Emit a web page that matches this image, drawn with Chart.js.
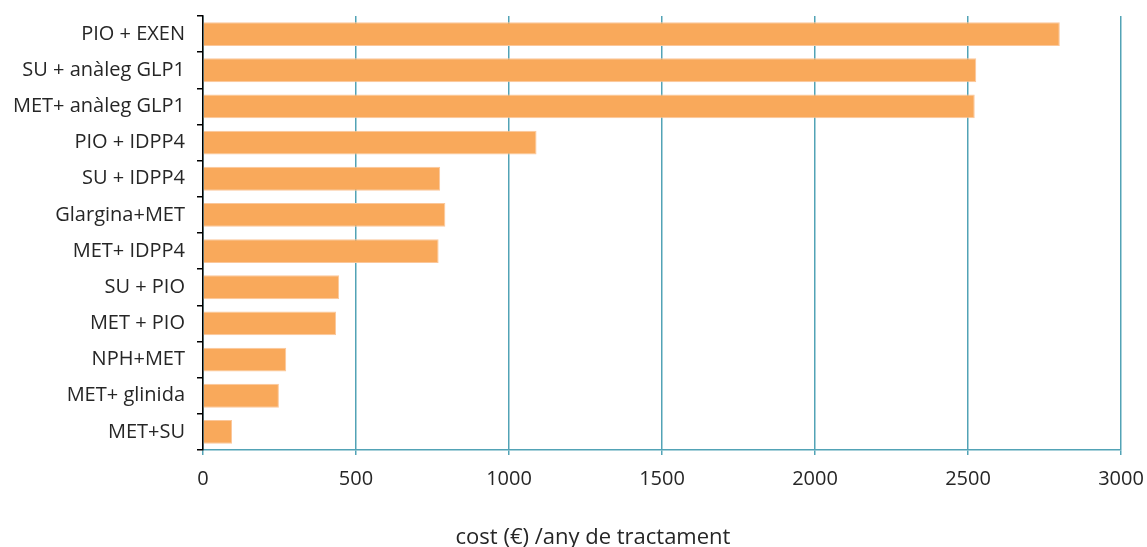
<!DOCTYPE html>
<html>
<head>
<meta charset="utf-8">
<script src="https://cdn.jsdelivr.net/npm/chart.js@4"></script>
<style>
  html, body { margin: 0; padding: 0; background: #fff; }
  #wrap { width: 1147px; height: 547px; }
</style>
</head>
<body>
<div id="wrap"><canvas id="graph" width="1147" height="547"></canvas></div>
<script>
const categories = ['PIO + EXEN', 'SU + anàleg GLP1', 'MET+ anàleg GLP1', 'PIO + IDPP4', 'SU + IDPP4',
  'Glargina+MET', 'MET+ IDPP4', 'SU + PIO', 'MET + PIO', 'NPH+MET', 'MET+ glinida', 'MET+SU'];
const costs = [2800, 2527, 2522, 1090, 775, 792, 770, 445, 435, 272, 248, 95];
const xTicks = [0, 500, 1000, 1500, 2000, 2500, 3000];
const axisTitle = 'cost (€) /any de tractament';

const teal = '#52a3b6';
const textColor = '#262626';

// axis title sits a bit left of the plot centre, like the original
const bottomTitle = {
    id: 'bottomTitle',
    afterDraw(chart) {
        const ctx = chart.ctx;
        ctx.save();
        ctx.font = '22px "Open Sans"';
        ctx.fillStyle = textColor;
        ctx.textAlign = 'center';
        ctx.textBaseline = 'middle';
        ctx.fillText(axisTitle, 593, 538);
        ctx.restore();
    }
};

const ct1 = document.getElementById('graph').getContext('2d');
const myChart = new Chart(ct1, {
    type: 'bar',
    data: {
        labels: categories,
        datasets: [{
            data: costs,
            backgroundColor: '#f9a95b',
            borderColor: '#fbc79a',
            borderWidth: 1,
            categoryPercentage: 1,
            barPercentage: 0.66
        }]
    },
    options: {
        indexAxis: 'y',
        responsive: false,
        animation: false,
        layout: { padding: { top: 16, right: 26, left: 0, bottom: 0 } },
        plugins: {
            legend: { display: false },
            tooltip: { enabled: false }
        },
        scales: {
            x: {
                min: 0,
                max: 3000,
                afterBuildTicks: (scale) => { scale.ticks = xTicks.map(v => ({ value: v })); },
                afterFit: (scale) => {
                    scale.height = 97;
                    scale.paddingLeft = 0;
                    scale.paddingRight = 0;
                },
                grid: { color: teal, lineWidth: 1.5, tickLength: 5 },
                border: { color: teal, width: 1.5 },
                ticks: {
                    color: textColor,
                    font: { family: 'Open Sans', size: 20 },
                    padding: 12,
                    maxRotation: 0,
                    callback: (v) => String(v)
                }
            },
            y: {
                afterFit: (scale) => {
                    scale.width = 203;
                    scale.paddingTop = 0;
                    scale.paddingBottom = 0;
                },
                grid: { drawOnChartArea: false, color: '#000', tickLength: 6, lineWidth: 1.5 },
                border: { color: '#000', width: 1.5 },
                ticks: {
                    color: textColor,
                    font: { family: 'Open Sans', size: 20 },
                    padding: 12
                }
            }
        }
    },
    plugins: [bottomTitle]
});
</script>
</body>
</html>
